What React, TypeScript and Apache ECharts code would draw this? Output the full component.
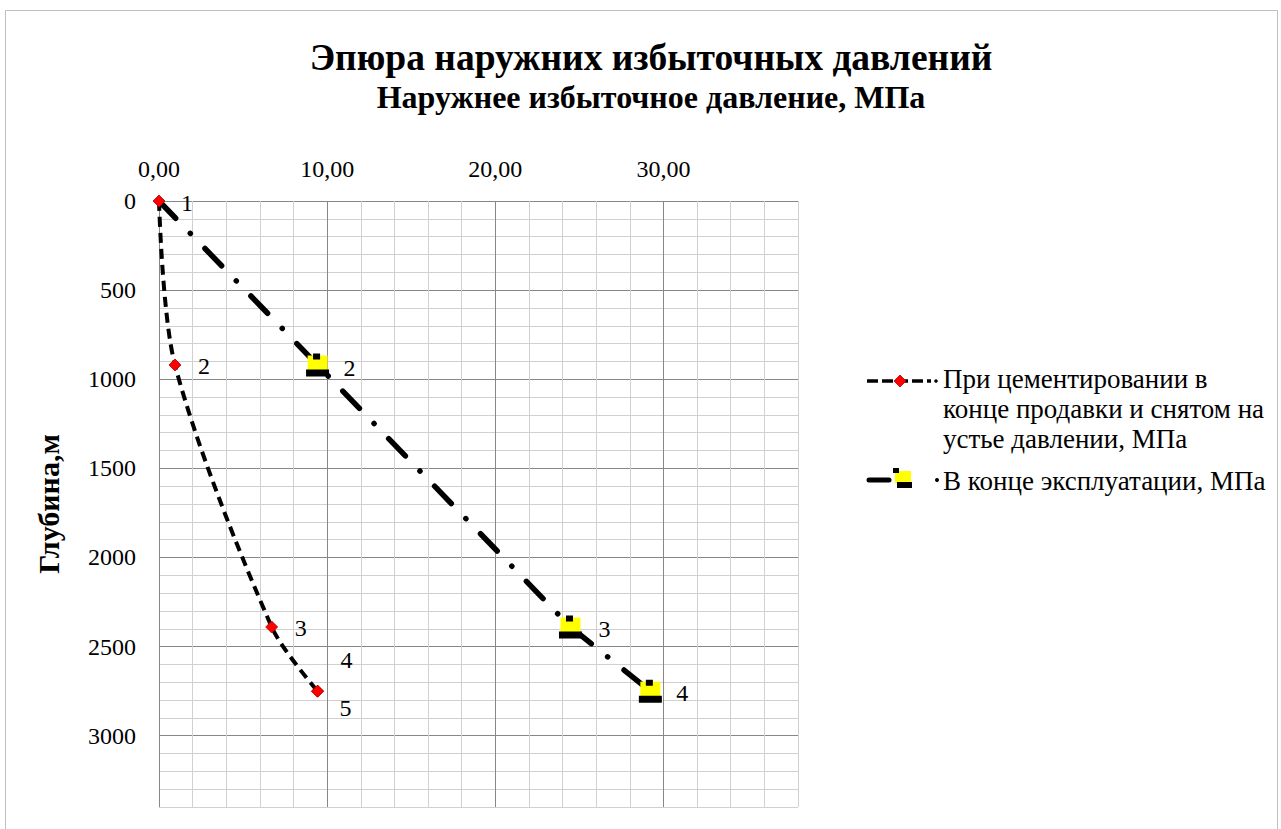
import React, { useEffect, useRef } from 'react';
import * as echarts from 'echarts';

// ---- data ----
const series1Name = 'При цементировании в конце продавки и снятом на устье давлении, МПа';
const series2Name = 'В конце эксплуатации, МПа';
const depth1 = [0, 920, 2390, 2750, 2750];
const pressure1 = [0, 0.95, 6.7, 9.43, 9.43];
const pointLabels1 = ['1', '2', '3', '4', '5'];
const depth2 = [0, 920, 2390, 2750];
const pressure2 = [0, 9.43, 24.47, 29.22];
const pointLabels2 = ['', '2', '3', '4'];
const xLabelValues = [0, 10, 20, 30];
const yLabelValues = [0, 500, 1000, 1500, 2000, 2500, 3000];
const titleText = 'Эпюра наружних избыточных давлений';
const xAxisTitle = 'Наружнее избыточное давление, МПа';
const yAxisTitle = 'Глубина,м';
const legendLines1 = ['При цементировании в', 'конце продавки и снятом на', 'устье давлении, МПа'];

// ---- styles ----
const FONT = '"Liberation Serif", "Times New Roman", serif';
const labelOffsets1: number[][] = [[28, 2], [29, 1], [29, 1], [29, -31], [28, 17]];
const labelOffsets2: number[][] = [[0, 0], [32, 3], [34, 2], [32, 2]];
const MAJOR = '#878787';
const MINOR = '#d0d0d0';
const blackMarkerPath = 'path://M8 0 H15 V6 H8 Z M1 16 H24 V23 H1 Z';

export default function App() {
  const ref = useRef<HTMLDivElement>(null);
  useEffect(() => {
    if (!ref.current) return;
    const chart = echarts.init(ref.current, null, { renderer: 'svg' });

    const fmtX = (v: number) =>
      xLabelValues.some((t) => Math.abs(t - v) < 1e-6) ? v.toFixed(2).replace('.', ',') : '';
    const fmtY = (v: number) =>
      yLabelValues.some((t) => Math.abs(t - v) < 1e-6) ? String(v) : '';

    const data1 = pressure1.map((x, i) => ({
      value: [x, depth1[i]],
      label: { formatter: pointLabels1[i], offset: labelOffsets1[i] },
    }));
    const data2 = pressure2.map((x, i) => ({ value: [x, depth2[i]] }));
    const dataYellow = pressure2.map((x, i) => ({
      value: [x, depth2[i]],
      symbol: i === 0 ? 'none' : 'rect',
    }));
    const dataBlack = pressure2.map((x, i) => ({
      value: [x, depth2[i]],
      symbol: i === 0 ? 'none' : blackMarkerPath,
      label: { formatter: pointLabels2[i], offset: labelOffsets2[i], show: pointLabels2[i] !== '' },
    }));

    const option: any = {
      animation: false,
      backgroundColor: '#ffffff',
      textStyle: { fontFamily: FONT },
      grid: { left: 159, top: 201, width: 639, height: 606, containLabel: false },
      xAxis: {
        type: 'value',
        position: 'top',
        min: 0,
        max: 38,
        interval: 2,
        axisLine: { show: false },
        axisTick: { show: false },
        axisLabel: {
          formatter: fmtX,
          color: '#000',
          fontSize: 24,
          fontFamily: FONT,
          margin: 20,
          showMaxLabel: false,
        },
        splitLine: { show: true, lineStyle: { color: [MAJOR, MINOR, MINOR, MINOR, MINOR], width: 1 } },
      },
      yAxis: {
        type: 'value',
        inverse: true,
        min: 0,
        max: 3400,
        interval: 100,
        name: yAxisTitle,
        nameLocation: 'middle',
        nameGap: 96,
        nameRotate: 90,
        nameTextStyle: { fontSize: 30, fontWeight: 'bold', color: '#000', fontFamily: FONT },
        axisLine: { show: false },
        axisTick: { show: false },
        axisLabel: { formatter: fmtY, color: '#000', fontSize: 24, fontFamily: FONT, margin: 23 },
        splitLine: { show: true, lineStyle: { color: [MAJOR, MINOR, MINOR, MINOR, MINOR], width: 1 } },
      },
      series: [
        {
          type: 'line',
          name: series1Name,
          data: data1,
          smooth: 0.3,
          symbol: 'diamond',
          symbolSize: 12,
          itemStyle: { color: '#ff0000', borderColor: '#b00000', borderWidth: 0.8 },
          lineStyle: { color: '#000', width: 4, type: [10, 6] },
          label: { show: true, position: 'inside', color: '#000', fontSize: 24, fontFamily: FONT },
          z: 3,
        },
        {
          type: 'line',
          name: series2Name,
          data: data2,
          symbol: 'none',
          lineStyle: { color: '#000', width: 5.5, type: [24, 21, 0.1, 21], cap: 'round' },
          z: 2,
        },
        {
          type: 'scatter',
          name: 'marker-fill',
          data: dataYellow,
          symbolSize: [20, 15],
          symbolOffset: [0, -2],
          itemStyle: { color: '#ffff00', opacity: 1 },
          silent: true,
          z: 4,
        },
        {
          type: 'scatter',
          name: 'marker-edge',
          data: dataBlack,
          symbolSize: [23, 23],
          itemStyle: { color: '#000', opacity: 1 },
          label: { show: true, position: 'inside', color: '#000', fontSize: 24, fontFamily: FONT },
          silent: true,
          z: 5,
        },
      ],
      graphic: [
        {
          type: 'rect',
          shape: { x: 5.5, y: 10.5, width: 1272, height: 900 },
          style: { fill: 'none', stroke: '#bfbfbf', lineWidth: 1 },
          z: -10,
          silent: true,
        },
        {
          type: 'text',
          x: 651,
          y: 57,
          style: {
            text: titleText,
            fill: '#000',
            font: `bold 37.5px ${FONT}`,
            align: 'center',
            verticalAlign: 'middle',
          },
        },
        {
          type: 'text',
          x: 651,
          y: 97,
          style: {
            text: xAxisTitle,
            fill: '#000',
            font: `bold 32px ${FONT}`,
            align: 'center',
            verticalAlign: 'middle',
          },
        },
        // legend item 1
        {
          type: 'line',
          shape: { x1: 867, y1: 381, x2: 931, y2: 381 },
          style: { stroke: '#000', lineWidth: 3.5, lineDash: [11, 4] },
        },
        {
          type: 'polygon',
          shape: { points: [[900, 375], [906, 381], [900, 387], [894, 381]] },
          style: { fill: '#ff0000', stroke: '#b00000', lineWidth: 0.8 },
        },
        { type: 'circle', shape: { cx: 936, cy: 381, r: 1.8 }, style: { fill: '#000' } },
        {
          type: 'text',
          x: 943,
          y: 364,
          style: {
            text: legendLines1.join('\n'),
            fill: '#000',
            font: `27px ${FONT}`,
            lineHeight: 30,
            align: 'left',
            verticalAlign: 'top',
          },
        },
        // legend item 2
        {
          type: 'line',
          shape: { x1: 869, y1: 480, x2: 889, y2: 480 },
          style: { stroke: '#000', lineWidth: 5, lineCap: 'round' },
        },
        { type: 'rect', shape: { x: 895, y: 471, width: 16, height: 12 }, style: { fill: '#ffff00' } },
        { type: 'rect', shape: { x: 893, y: 468, width: 6, height: 5 }, style: { fill: '#000' } },
        { type: 'rect', shape: { x: 897, y: 482, width: 15, height: 6 }, style: { fill: '#000' } },
        { type: 'circle', shape: { cx: 937, cy: 480, r: 2 }, style: { fill: '#000' } },
        {
          type: 'text',
          x: 943,
          y: 481,
          style: {
            text: series2Name,
            fill: '#000',
            font: `27px ${FONT}`,
            align: 'left',
            verticalAlign: 'middle',
          },
        },
      ],
    };
    chart.setOption(option);
    return () => chart.dispose();
  }, []);

  return (
    <div
      ref={ref}
      style={{ position: 'absolute', left: 0, top: 0, width: 1281, height: 829, background: '#fff' }}
    />
  );
}
